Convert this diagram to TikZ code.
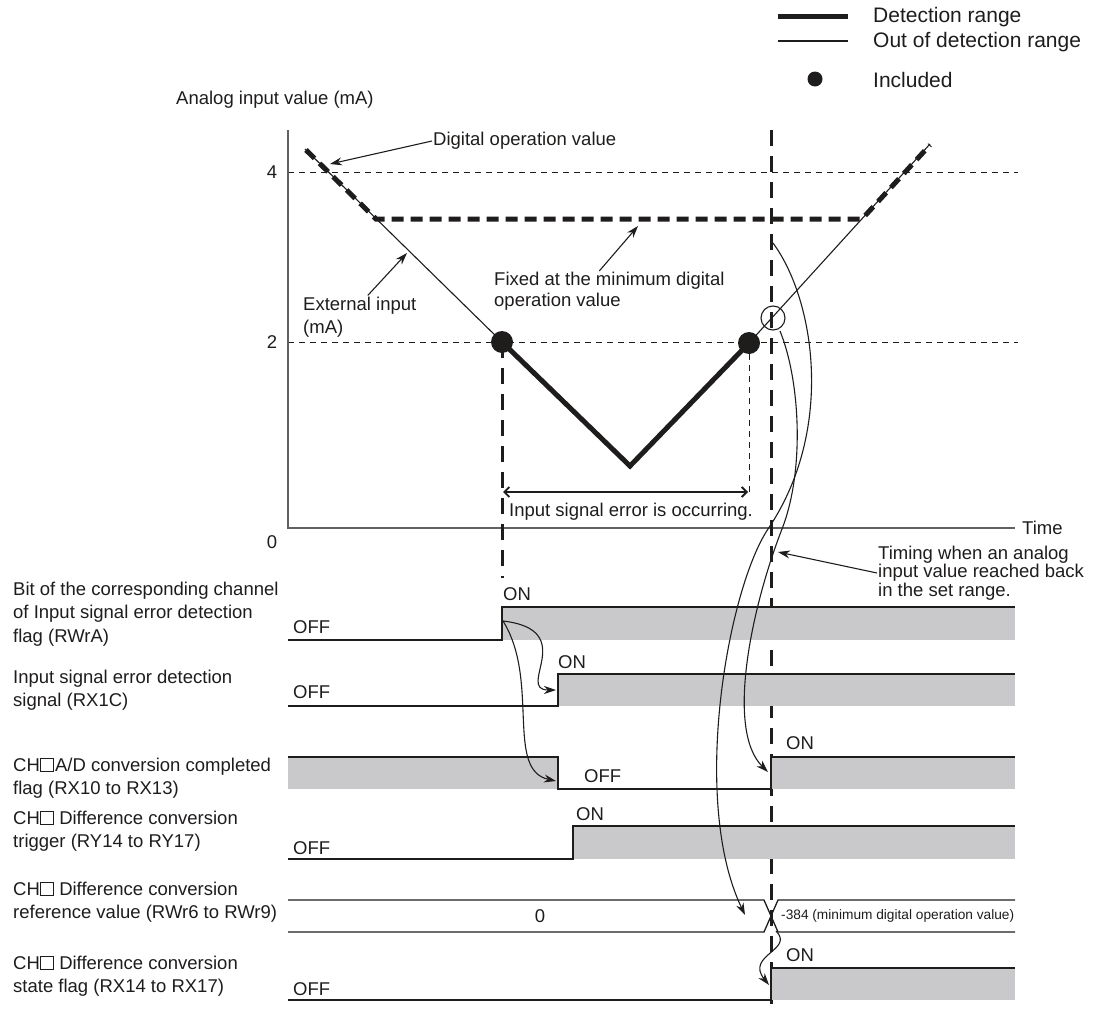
\documentclass[tikz,border=0pt]{standalone}
\usepackage{fontspec}
\setmainfont{Liberation Sans}
\usetikzlibrary{arrows.meta}
\definecolor{inkblack}{rgb}{0.12,0.11,0.11}
\definecolor{axisgray}{rgb}{0.38,0.38,0.38}
\definecolor{signalgray}{rgb}{0.79,0.79,0.80}
\newcommand{\chsq}{{\setlength{\fboxsep}{0pt}\setlength{\fboxrule}{0.9pt}\fbox{\rule{0pt}{12.4pt}\hspace{12.4pt}}}}
\tikzset{
  txt/.style={
    inner sep=1pt,
    anchor=west,
    text=inkblack,
    font=\fontsize{18.5}{23.5}\selectfont
  },
  rowname/.style={
    txt,
    align=left
  },
  onoff/.style={
    txt
  },
  smalltxt/.style={
    txt,
    font=\fontsize{13.7}{16}\selectfont
  },
  legendtxt/.style={
    txt,
    font=\fontsize{21}{25}\selectfont
  },
  arrow/.style={
    -{Stealth[length=12pt,width=8pt]},
    line width=1.1pt,
    inkblack
  },
  span/.style={
    {Straight Barb[length=5pt,width=10pt]}-{Straight Barb[length=5pt,width=10pt]},
    line width=1.8pt,
    inkblack
  },
  axis/.style={
    line width=1.6pt,
    axisgray
  },
  guide/.style={
    line width=1pt,
    inkblack,
    dash pattern=on 6pt off 5pt
  },
  timeline/.style={
    line width=3pt,
    inkblack,
    dash pattern=on 16pt off 10pt
  },
  digital/.style={
    line width=5pt,
    inkblack,
    dash pattern=on 12pt off 7pt
  },
  outside/.style={
    line width=1.1pt,
    inkblack
  },
  detect/.style={
    line width=5pt,
    inkblack,
    line join=miter
  },
  wave/.style={
    line width=1.3pt,
    inkblack
  },
  high/.style={
    fill=signalgray
  }
}
\begin{document}
\begin{tikzpicture}[x=1pt,y=-1pt]
\useasboundingbox (0,0) rectangle (1093,1009);

% legend
\draw[detect] (778,16) -- (848,16);
\draw[outside] (778,41) -- (848,41);
\fill[inkblack] (815,79) circle[radius=7.5pt];
\node[legendtxt] (leg1) at (872,17) {Detection range};
\node[legendtxt] (leg2) at (872,42) {Out of detection range};
\node[legendtxt] (leg3) at (872,80) {Included};

% analog graph
\coordinate (orig) at (288,528);
\coordinate (ytop) at (288,130);
\coordinate (tend) at (1015,528);
\coordinate (e0) at (305,149);
\coordinate (p1) at (502,342);
\coordinate (pv) at (630,466);
\coordinate (p2) at (749,343);
\coordinate (e1) at (930,144);
\coordinate (hollow) at (773,318);

\node[txt] (ytitle) at (175,100) {Analog input value (mA)};
\node[txt, anchor=center] (four) at (272,172) {4};
\node[txt, anchor=center] (two) at (272,342) {2};
\node[txt, anchor=center] (zero) at (272,542) {0};
\node[txt] (time) at (1021,528) {Time};

\draw[guide] (288,172) -- (1018,172);
\draw[guide] (288,342) -- (1018,342);
\draw[axis] (ytop) -- (orig) -- (tend);

\draw[outside] (e0) -- (p1);
\draw[outside] (p2) -- (e1);
\draw[detect] (p1) -- (pv) -- (p2);
\draw[digital] (306,150) -- (376,219) -- (862,219) -- (930,145);
\fill[inkblack] (p1) circle[radius=11pt];
\fill[inkblack] (p2) circle[radius=11pt];
\draw[outside] (hollow) circle[radius=12pt];

\draw[timeline] (502,342) -- (502,578);
\draw[timeline] (771,130) -- (771,1009);
\draw[guide] (p2) -- (749,492);
\draw[span] (503,492) -- (748,492);
\node[txt] (errnote) at (508,512) {Input signal error is occurring.};

\node[txt] (digop) at (432,141) {Digital operation value};
\coordinate (digtip) at (330,164);
\draw[arrow] (digop.west) -- (digtip);
\node[txt, align=left, font=\fontsize{18.5}{20.5}\selectfont] (fixed) at (493,291) {Fixed at the minimum digital\\operation value};
\coordinate (fixtip) at (638,226);
\draw[arrow] ([xshift=-10pt]fixed.north) -- (fixtip);
\node[txt, align=left] (extin) at (302,317) {External input\\(mA)};
\coordinate (exttip) at (407,253);
\draw[arrow] ([xshift=8pt]extin.north) -- (exttip);

\node[txt, align=left, font=\fontsize{18.5}{18.5}\selectfont] (backnote) at (877,573) {Timing when an analog\\input value reached back\\in the set range.};
\coordinate (backtip) at (778,552);
\draw[arrow] (backnote.west) -- (backtip);

% signal names
\node[rowname] (rwra) at (12,614) {Bit of the corresponding channel\\of Input signal error detection\\flag (RWrA)};
\node[rowname] (rx1c) at (12,690) {Input signal error detection\\signal (RX1C)};
\node[rowname] (rx10) at (12,778) {CH\chsq\kern1pt A/D conversion completed\\flag (RX10 to RX13)};
\node[rowname] (ry14) at (12,831) {CH\chsq{} Difference conversion\\trigger (RY14 to RY17)};
\node[rowname] (rwr6) at (12,902) {CH\chsq{} Difference conversion\\reference value (RWr6 to RWr9)};
\node[rowname] (rx14) at (12,976) {CH\chsq{} Difference conversion\\state flag (RX14 to RX17)};

% timing rows
\fill[high] (502,607) rectangle (1015,640);
\draw[wave] (288,640) -- (502,640) -- (502,607) -- (1015,607);
\node[onoff] (off1) at (292,627) {OFF};
\node[onoff] (on1) at (502,594) {ON};

\fill[high] (558,674) rectangle (1015,706);
\draw[wave] (288,706) -- (558,706) -- (558,674) -- (1015,674);
\node[onoff] (off2) at (292,692) {OFF};
\node[onoff] (on2) at (557,662) {ON};

\fill[high] (288,757) rectangle (558,789);
\fill[high] (771,757) rectangle (1015,789);
\draw[wave] (288,757) -- (558,757) -- (558,789) -- (771,789) -- (771,757) -- (1015,757);
\node[onoff] (off3) at (583,776) {OFF};
\node[onoff] (on3) at (785,743) {ON};

\fill[high] (573,826) rectangle (1015,859);
\draw[wave] (288,859) -- (573,859) -- (573,826) -- (1015,826);
\node[onoff] (off4) at (292,848) {OFF};
\node[onoff] (on4) at (575,814) {ON};

\draw[wave] (288,900) -- (764,900) -- (778,932) -- (1015,932);
\draw[wave] (288,932) -- (764,932) -- (778,900) -- (1015,900);
\node[txt, anchor=center] (val0) at (540,916) {0};
\node[smalltxt] (valmin) at (780,916) {-384 (minimum digital operation value)};

\fill[high] (771,968) rectangle (1015,1000);
\draw[wave] (288,1000) -- (771,1000) -- (771,968) -- (1015,968);
\node[onoff] (off6) at (292,989) {OFF};
\node[onoff] (on6) at (785,955) {ON};

% cause and effect
\coordinate (rise1) at (503,621);
\coordinate (rise2) at (556,690);
\coordinate (fall3) at (556,781);
\coordinate (minlvl) at (773,243);
\coordinate (hollowb) at (780,331);
\coordinate (rise3) at (768,772);
\coordinate (cross5) at (745,915);
\coordinate (cross5b) at (776,931);
\coordinate (rise6) at (769,985);
\draw[arrow] (rise1) .. controls (580,630) and (515,690) .. (rise2);
\draw[arrow] (rise1) .. controls (540,680) and (505,770) .. (fall3);
\draw[arrow] (minlvl) .. controls (815,300) and (835,430) .. (768,529) .. controls (728,589) and (690,800) .. (cross5);
\draw[arrow] (hollowb) .. controls (800,380) and (805,470) .. (782,529) .. controls (752,606) and (725,730) .. (rise3);
\draw[arrow] (cross5b) .. controls (795,950) and (745,955) .. (rise6);
\end{tikzpicture}
\end{document}
